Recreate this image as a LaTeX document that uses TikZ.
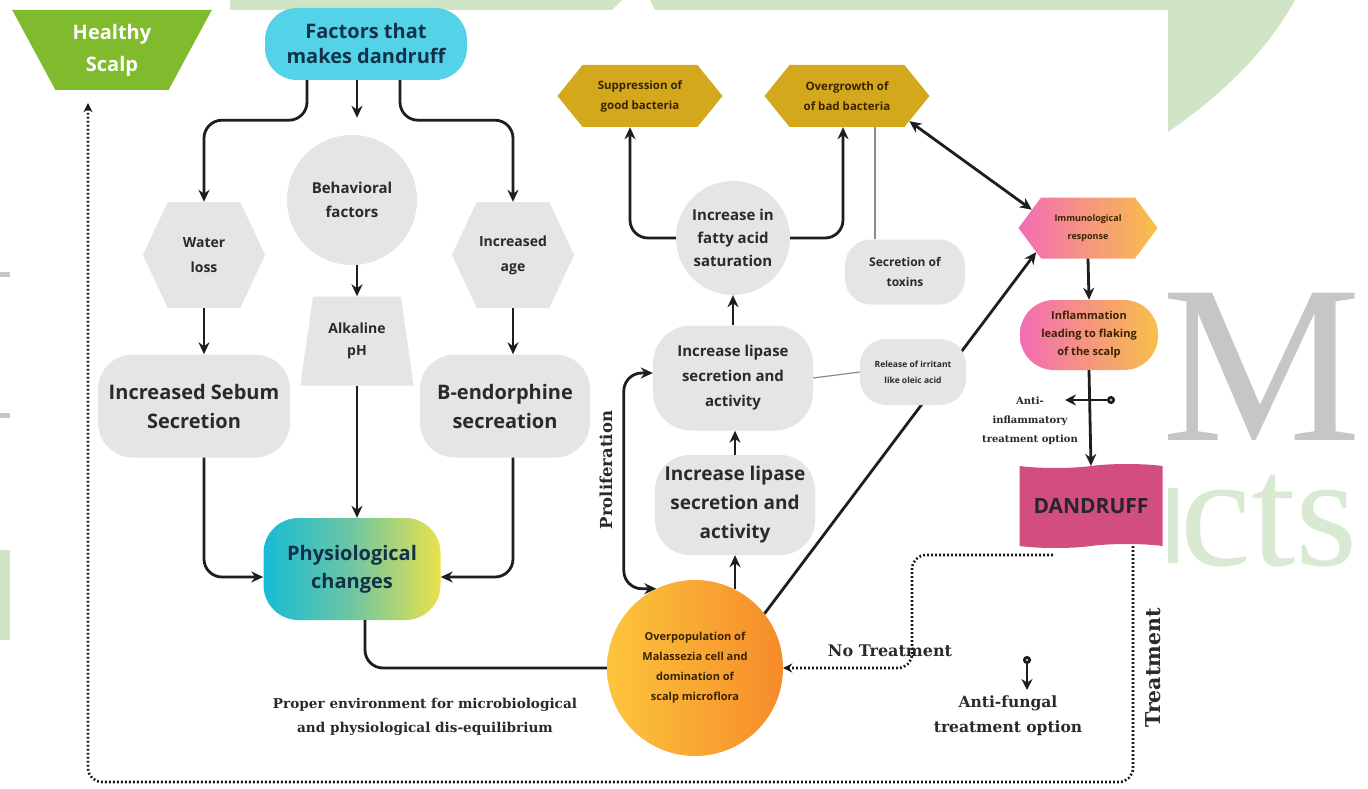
\documentclass[tikz,border=0pt]{standalone}
\usepackage{fontspec}
\setmainfont{Open Sans}
\newfontfamily\slabfont{DejaVu Serif}
\newfontfamily\wmfont{Liberation Serif}
\usetikzlibrary{shapes.geometric,shapes.symbols,arrows.meta,backgrounds}

\definecolor{boxgrey}{HTML}{E5E5E5}
\definecolor{linegrey}{HTML}{1E1E1E}
\definecolor{cyanc}{HTML}{54D3E8}
\definecolor{hgreen}{HTML}{7FBB2C}
\definecolor{goldc}{HTML}{D3A81C}
\definecolor{pinkc}{HTML}{F26CB4}
\definecolor{peachc}{HTML}{F8C04A}
\definecolor{dmag}{HTML}{D24E80}
\definecolor{circY}{HTML}{FCC53C}
\definecolor{circO}{HTML}{F68B2A}
\definecolor{physL}{HTML}{17BCD5}
\definecolor{physM}{HTML}{6FC6A3}
\definecolor{physR}{HTML}{E9E24C}
\definecolor{txtdark}{HTML}{2A2A2A}
\definecolor{navyc}{HTML}{12324A}
\definecolor{brownc}{HTML}{3A2300}
\definecolor{wmgreen}{HTML}{CFE5C6}
\definecolor{wmgreen2}{HTML}{D8EAD2}
\definecolor{wmgrey}{HTML}{C6C6C6}

\newcommand{\fsb}[2]{\fontsize{#1}{#2}\selectfont\bfseries}

\tikzset{
  x=1pt, y=-1pt,
  conn/.style={draw=linegrey, line width=2.8pt, rounded corners=18pt,
    -{Stealth[length=12pt,width=11pt]}},
  dconn/.style={conn, {Stealth[length=12pt,width=11pt]}-{Stealth[length=12pt,width=11pt]}},
  plainconn/.style={conn, -},
  thinline/.style={draw=black!45, line width=1.2pt},
  dotline/.style={draw=black!90, line width=2.6pt, dash pattern=on 1.8pt off 2.2pt,
    rounded corners=14pt, -{Stealth[length=9pt,width=9pt]}},
  optline/.style={draw=linegrey, line width=2.8pt,
    {Circle[open,length=8pt,width=8pt]}-{Stealth[length=11pt,width=11pt]}},
  greybox/.style={fill=boxgrey, rounded corners=32pt, align=center, inner sep=0pt, text=txtdark},
  greyhex/.style={signal, signal to=west and east, fill=boxgrey, align=center,
    inner sep=0pt, text=txtdark},
  goldhex/.style={signal, signal to=west and east, fill=goldc, align=center,
    inner sep=0pt, text=brownc, signal pointer angle=102,
    minimum width=165pt, minimum height=62pt, font=\fsb{11.5}{20}},
  slab/.style={align=center, text=txtdark, inner sep=0pt},
}

\begin{document}
\begin{tikzpicture}
\useasboundingbox (0,0) rectangle (1368,789);

% watermark behind the panel
\begin{scope}[on background layer]
\fill[wmgreen] (230,0) -- (622,0) -- (612,10) -- (230,10) -- cycle;
\fill[wmgreen] (650,0) -- (1295,0) .. controls (1265,55) and (1215,100) .. (1168,132)
  -- (1168,10) -- (655,10) -- cycle;
\fill[wmgreen] (0,550) rectangle (10,640);
\fill[wmgrey] (0,272) rectangle (10,277);
\fill[wmgrey] (0,413) rectangle (10,418);
\fill[wmgreen2] (1166,488) rectangle (1178,563);
\node[anchor=base west, inner sep=0pt, text=wmgreen2, text height=90pt, text depth=0pt,
  font=\wmfont\fontsize{160}{160}\selectfont] (wmcts) at (1180,565) {cts};
\node[anchor=base, inner sep=0pt, text=wmgrey, text depth=0pt,
  font=\wmfont\fontsize{225}{225}\selectfont] (wmM) at (1262,440) {M};
\fill[white] (10,10) rectangle (1168,789);
\end{scope}

% top of the chart
\node[trapezium, trapezium angle=60, shape border rotate=180, trapezium stretches=true,
  minimum width=200pt, minimum height=80pt, fill=hgreen, text=white, align=center,
  inner sep=0pt, font=\fsb{20}{32}] (healthy) at (112,50) {Healthy\\Scalp};
\node[fill=cyanc, rounded corners=32pt, minimum width=202pt, minimum height=72pt,
  align=center, inner sep=0pt, text=navyc, font=\fsb{20}{25}] (factors) at (366,44)
  {Factors that\\makes dandruff};

\node[greyhex, signal pointer angle=130, minimum width=122pt, minimum height=106pt,
  font=\fsb{14}{25}] (water) at (204,255) {Water\\loss};
\node[circle, fill=boxgrey, minimum size=130pt, align=center, inner sep=0pt,
  text=txtdark, font=\fsb{15}{24}] (behav) at (352,200) {Behavioral\\factors};
\node[greyhex, signal pointer angle=130, minimum width=122pt, minimum height=106pt,
  font=\fsb{14}{25}] (age) at (513,255) {Increased\\age};
\node[trapezium, trapezium angle=77, trapezium stretches=true, minimum width=114pt,
  minimum height=89pt, fill=boxgrey, align=center, inner sep=0pt, text=txtdark,
  font=\fsb{14}{22}] (alk) at (357,341) {Alkaline\\pH};

\node[greybox, rounded corners=35pt, minimum width=192pt, minimum height=103pt,
  font=\fsb{20}{29}] (sebum) at (194,406) {Increased Sebum\\Secretion};
\node[greybox, rounded corners=35pt, minimum width=170pt, minimum height=103pt,
  font=\fsb{20}{29}] (bendo) at (505,406) {B-endorphine\\secreation};

\node[rounded corners=35pt, left color=physL, right color=physR, middle color=physM,
  minimum width=177pt, minimum height=102pt, align=center, inner sep=0pt, text=navyc,
  font=\fsb{20}{28}] (physio) at (352,569) {Physiological\\changes};

% microbial side
\node[circle, left color=circY, right color=circO, minimum size=176pt, align=center,
  inner sep=0pt, text=brownc, font=\fsb{11}{20}] (overpop) at (695,668)
  {Overpopulation of\\Malassezia cell and\\domination of\\scalp microflora};
\node[greybox, rounded corners=35pt, minimum width=160pt, minimum height=100pt,
  font=\fsb{19}{29}] (lip2) at (735,505) {Increase lipase\\secretion and\\activity};
\node[greybox, rounded corners=38pt, minimum width=160pt, minimum height=105pt,
  font=\fsb{15}{25}] (lip1) at (733,378) {Increase lipase\\secretion and\\activity};
\node[circle, fill=boxgrey, minimum size=114pt, align=center, inner sep=0pt,
  text=txtdark, font=\fsb{15}{23}] (fatty) at (733,238) {Increase in\\fatty acid\\saturation};
\node[goldhex] (supp) at (640,96) {Suppression of\\good bacteria};
\node[goldhex] (over) at (847,96) {Overgrowth of\\of bad bacteria};
\node[greybox, rounded corners=26pt, minimum width=120pt, minimum height=65pt,
  font=\fsb{12}{20}] (toxins) at (905,272) {Secretion of\\toxins};
\node[greybox, rounded corners=26pt, minimum width=106pt, minimum height=66pt,
  font=\fsb{8.5}{16}] (release) at (913,372) {Release of irritant\\like oleic acid};

% host response
\node[signal, signal to=west and east, signal pointer angle=107, left color=pinkc,
  right color=peachc, minimum width=139pt, minimum height=61pt, align=center,
  inner sep=0pt, text=brownc, font=\fsb{9}{18}] (immun) at (1088,228)
  {Immunological\\response};
\node[rounded corners=34pt, left color=pinkc, right color=peachc, minimum width=138pt,
  minimum height=70pt, align=center, inner sep=0pt, text=brownc,
  font=\fsb{11}{18}] (infl) at (1089,335) {Inflammation\\leading to flaking\\of the scalp};
\node[tape, tape bend height=4pt, fill=dmag, minimum width=143pt, minimum height=84pt,
  inner sep=0pt, text=black!85, font=\fsb{21}{24}] (dand) at (1091,506) {DANDRUFF};

% labels
\node[slab, font=\slabfont\fsb{10}{19}] (antiinf) at (1030,421)
  {Anti-\\inflammatory\\treatment option};
\node[slab, font=\slabfont\fsb{16}{19}] (notreat) at (890,651) {No Treatment};
\node[slab, font=\slabfont\fsb{15.5}{25}] (antifung) at (1008,716)
  {Anti-fungal\\treatment option};
\node[slab, rotate=90, font=\slabfont\fsb{20.5}{22}] (treatlab) at (1153,668) {Treatment};
\node[slab, rotate=90, font=\slabfont\fsb{16.5}{18}] (prolif) at (606,470) {Proliferation};
\node[slab, font=\slabfont\fsb{13.6}{24}] (proper) at (425,717)
  {Proper environment for microbiological\\and physiological dis-equilibrium};

% connectors, left part
\draw[conn] ([xshift=-59pt]factors.south) -- ++(0,40) -| (water.north);
\draw[conn] ([xshift=-9pt]factors.south) -- ([xshift=5pt,yshift=17pt]behav.north);
\draw[conn] ([xshift=34pt]factors.south) -- ++(0,40) -| (age.north);
\draw[conn] (alk.north |- behav.south) -- (alk.north);
\draw[conn] (water.south) -- (water.south |- sebum.north);
\draw[conn] (age.south) -- (age.south |- bendo.north);
\draw[conn] ([xshift=10pt]sebum.south) |- ([yshift=-8pt]physio.west);
\draw[conn] (alk.south) -- (alk.south |- physio.north);
\draw[conn] ([xshift=8pt]bendo.south) |- ([yshift=-8pt]physio.east);
\draw[plainconn] ([xshift=13pt]physio.south) |- (overpop.west);

% connectors, right part
\draw[conn] (overpop.63) -- (overpop.63 |- lip2.south);
\draw[conn] (lip2.north) -- (lip2.north |- lip1.south);
\draw[conn] (lip1.north) -- (lip1.north |- fatty.south);
\draw[conn] (fatty.west) -| ([xshift=-10pt]supp.south);
\draw[conn] (fatty.east) -| ([xshift=-4pt]over.south);
\draw[thinline] ([xshift=28pt]over.south) -- ([xshift=28pt]over.south |- toxins.north);
\draw[thinline] (lip1.east) -- (release.west);
\draw[dconn] (over.-22) -- (immun.162);
\draw[dconn] ([yshift=5pt]lip1.west) -- ([xshift=-29pt,yshift=5pt]lip1.west) |- (overpop.116);
\begin{scope}[on background layer]
\draw[conn] (overpop.38) -- (immun.205);
\end{scope}
\draw[conn] (immun.south) -- (infl.north);
\draw[conn] (infl.south) -- (dand.north);

% treatment options
\coordinate (aimark) at (1090,400);
\draw[optline] ([xshift=25pt]aimark) -- ([xshift=-25pt]aimark);
\coordinate (afmark) at (1027,672);
\draw[optline] ([yshift=16pt]afmark) -- ([yshift=-18pt]afmark);

\coordinate (ntstart) at (1053,555);
\coordinate (ntturn) at (912,555);
\draw[dotline] (ntstart) -- (ntturn) |- (overpop.east);
\coordinate (trbase) at (88,782);
\draw[dotline] ([xshift=42pt]dand.south) |- (trbase) -- ([xshift=-24pt,yshift=-13pt]healthy.south);

\end{tikzpicture}
\end{document}
